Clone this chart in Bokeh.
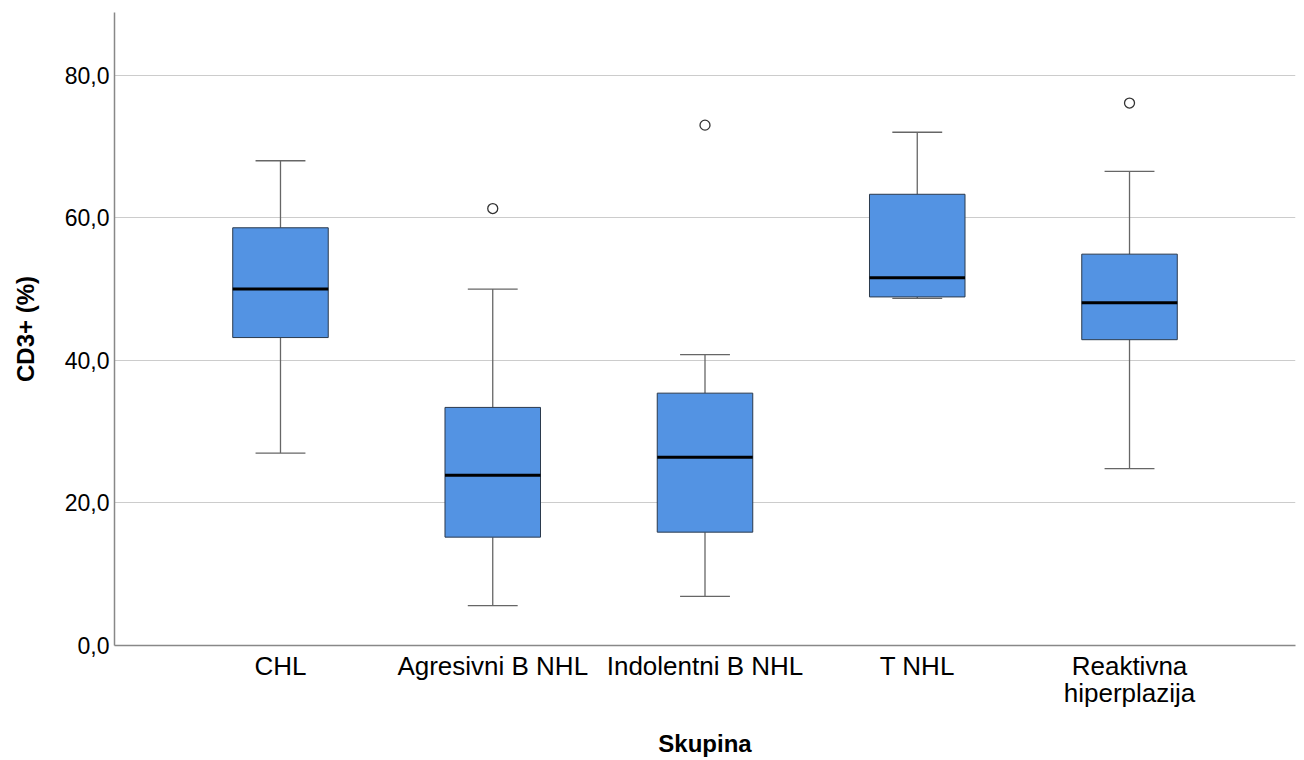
import numpy as np
from bokeh.plotting import figure
from bokeh.models import Range1d, FixedTicker, ColumnDataSource
from bokeh.embed import file_html
from bokeh.resources import INLINE

# CD3+ (%) distribution per group (box plot summary)
groups = ["CHL", "Agresivni B NHL", "Indolentni B NHL", "T NHL", "Reaktivna\nhiperplazija"]
whisker_low = [27.0, 5.6, 6.9, 48.7, 24.8]
q1 = [43.2, 15.2, 15.9, 48.9, 42.9]
median = [50.0, 23.9, 26.4, 51.6, 48.1]
q3 = [58.6, 33.4, 35.4, 63.3, 54.9]
whisker_high = [68.0, 50.0, 40.8, 72.0, 66.5]

outlier_group = ["Agresivni B NHL", "Indolentni B NHL", "Reaktivna\nhiperplazija"]
outlier_value = [61.3, 73.0, 76.1]

y_ticks = [0, 20, 40, 60, 80]
y_tick_labels = ["0,0", "20,0", "40,0", "60,0", "80,0"]

FONT = "Liberation Sans"
BOX_W = 0.45
CAP_W = 0.235

pos = np.arange(1, len(groups) + 1, dtype=float)
idx = {g: i for i, g in enumerate(groups)}

src = ColumnDataSource(dict(
    x=pos, lo=whisker_low, q1=q1, med=median, q3=q3, hi=whisker_high,
    bx0=pos - BOX_W / 2, bx1=pos + BOX_W / 2,
    cx0=pos - CAP_W / 2, cx1=pos + CAP_W / 2,
))
out_src = ColumnDataSource(dict(
    x=[pos[idx[g]] for g in outlier_group], y=outlier_value,
))

p = figure(width=1304, height=760, output_backend="svg", toolbar_location=None,
           x_range=Range1d(0.218, 5.782), y_range=Range1d(0, 88.8),
           min_border_left=114, min_border_right=9, min_border_top=12,
           min_border_bottom=115)
p.outline_line_color = None
p.background_fill_color = "white"
p.border_fill_color = "white"

# grid
p.xgrid.grid_line_color = None
p.ygrid.grid_line_color = "#cccccc"
p.ygrid.grid_line_width = 1
p.yaxis.ticker = FixedTicker(ticks=y_ticks)
p.xaxis.ticker = FixedTicker(ticks=list(pos))
p.yaxis.major_label_overrides = {t: s for t, s in zip(y_ticks, y_tick_labels)}
p.xaxis.major_label_overrides = {float(x): g for x, g in zip(pos, groups)}

for ax in (p.xaxis, p.yaxis):
    ax.axis_line_color = "#888888"
    ax.axis_line_width = 1.5
    ax.major_tick_line_color = None
    ax.minor_tick_line_color = None
    ax.major_tick_out = 0
    ax.major_tick_in = 0
    ax.major_label_text_font = FONT
    ax.major_label_text_color = "black"
    ax.axis_label_text_font = FONT
    ax.axis_label_text_font_style = "bold"
    ax.axis_label_text_font_size = "24px"
    ax.axis_label_text_color = "black"

p.yaxis.major_label_text_font_size = "23px"
p.xaxis.major_label_text_font_size = "26px"
p.xaxis.major_label_text_line_height = 0.9
p.yaxis.major_label_standoff = 5
p.xaxis.major_label_standoff = 5
p.yaxis.axis_label = "CD3+ (%)"
p.xaxis.axis_label = "Skupina"
p.yaxis.axis_label_standoff = 23
p.xaxis.axis_label_standoff = 19

# whiskers
wcol = "#666666"
p.segment(x0="x", y0="q3", x1="x", y1="hi", source=src, line_color=wcol, line_width=1.3)
p.segment(x0="x", y0="lo", x1="x", y1="q1", source=src, line_color=wcol, line_width=1.3)
p.segment(x0="cx0", y0="hi", x1="cx1", y1="hi", source=src, line_color=wcol, line_width=1.3)
p.segment(x0="cx0", y0="lo", x1="cx1", y1="lo", source=src, line_color=wcol, line_width=1.3)

# boxes
p.vbar(x="x", width=BOX_W, bottom="q1", top="q3", source=src,
       fill_color="#5393e3", line_color="#2b3a4d", line_width=1)
# medians
p.segment(x0="bx0", y0="med", x1="bx1", y1="med", source=src,
          line_color="black", line_width=3)

# outliers
p.scatter(x="x", y="y", source=out_src, size=10, fill_color="white",
          line_color="#333333", line_width=1.3)

open("out.html", "w").write(file_html(p, INLINE))
